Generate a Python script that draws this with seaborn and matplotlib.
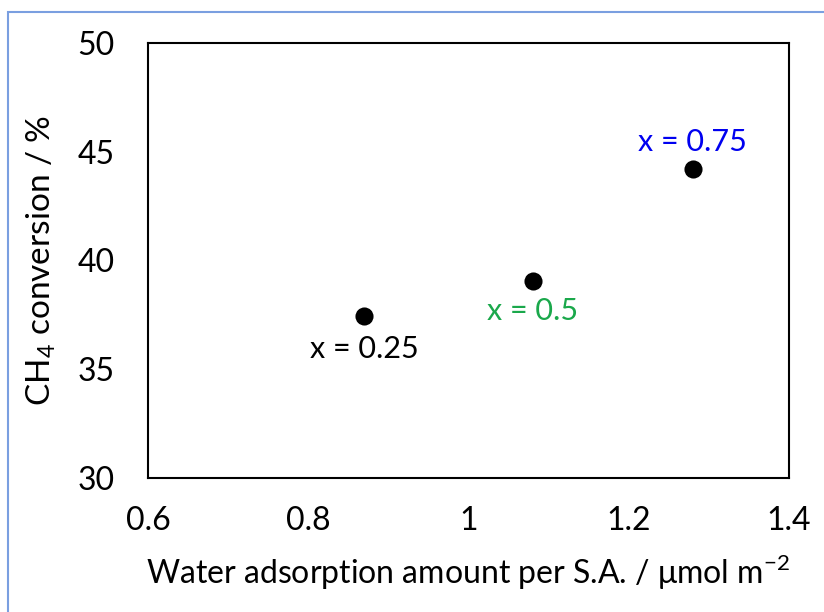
import matplotlib
matplotlib.use("Agg")
import matplotlib.pyplot as plt
import seaborn as sns
import pandas as pd
from matplotlib.patches import Rectangle

water = [0.87, 1.08, 1.28]
conversion = [37.45, 39.05, 44.2]
labels = ["x = 0.25", "x = 0.5", "x = 0.75"]
label_colors = ["#000000", "#1AA84B", "#0000F0"]
label_offsets = [(0, -1.5), (0, -1.35), (0, 1.25)]
xticks = [0.6, 0.8, 1.0, 1.2, 1.4]
xticklabels = ["0.6", "0.8", "1", "1.2", "1.4"]
yticks = [30, 35, 40, 45, 50]

sns.set_theme(style="white")
plt.rcParams['font.family'] = ['Lato', 'DejaVu Sans']
plt.rcParams['mathtext.fontset'] = 'custom'
plt.rcParams['mathtext.rm'] = 'Lato'

df = pd.DataFrame({"water": water, "conv": conversion})

fig = plt.figure(figsize=(8.24, 6.12), dpi=100)
ax = fig.add_axes([148/824, 1 - 478/612, (789-148)/824, (478-43)/612])
sns.scatterplot(data=df, x="water", y="conv", ax=ax, color="black", s=170,
                edgecolor="black", linewidth=0, zorder=3)

for xv, yv, lab, col, off in zip(water, conversion, labels, label_colors, label_offsets):
    ax.text(xv + off[0], yv + off[1], lab, color=col, fontsize=22,
            ha="center", va="center")

ax.set_xlim(0.6, 1.4)
ax.set_ylim(30, 50)
ax.set_xticks(xticks)
ax.set_xticklabels(xticklabels)
ax.set_yticks(yticks)
ax.tick_params(direction="in", length=9, width=1.5, colors="black",
               labelsize=23, labelcolor="black")
ax.tick_params(axis="y", pad=24)
ax.tick_params(axis="x", pad=20)
for s in ax.spines.values():
    s.set_color("black")
    s.set_linewidth(1.5)
ax.set_xlabel("Water adsorption amount per S.A. / μmol m$^{-2}$", fontsize=23,
              color="black", labelpad=12)
ax.set_ylabel("CH$_4$ conversion / %", fontsize=24, color="black", labelpad=14)

fig.patches.append(Rectangle((8/824, -0.1), 1.2, 1 - 12/612 + 0.1,
                             transform=fig.transFigure, fill=False,
                             edgecolor="#7A9FE0", linewidth=1.5))

fig.savefig("out.png", dpi=100, facecolor="white")
